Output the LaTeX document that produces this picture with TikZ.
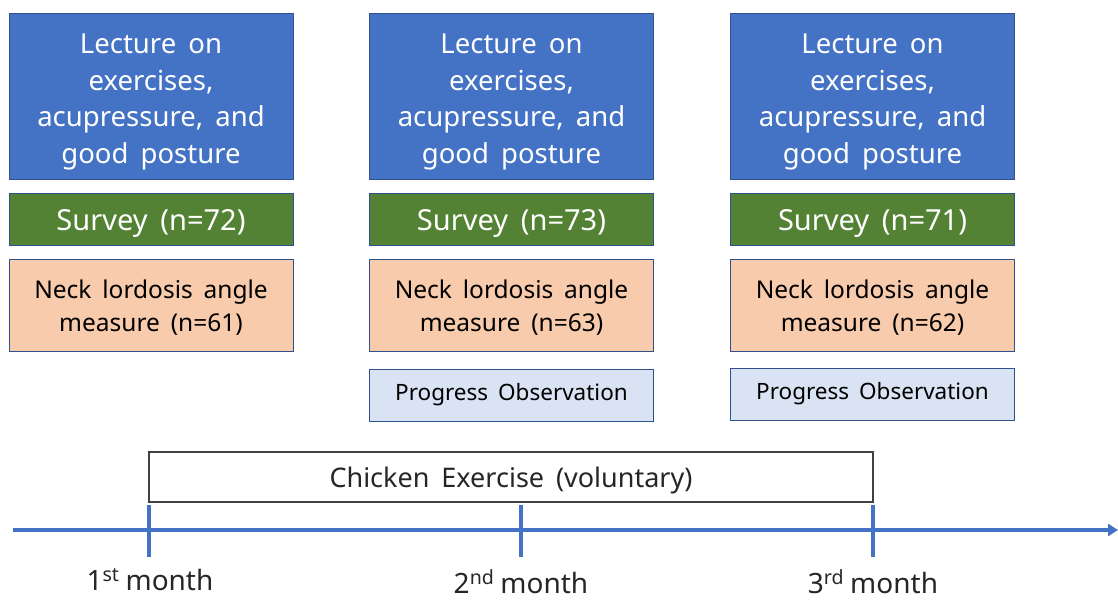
\documentclass[tikz,border=0pt]{standalone}
\usepackage{fontspec}
\setmainfont{Noto Sans}[WordSpace=1.7]
\usetikzlibrary{arrows.meta, calc, positioning}

\definecolor{lecblue}{HTML}{4472C4}
\definecolor{boxline}{HTML}{2F528F}
\definecolor{survgreen}{HTML}{548235}
\definecolor{neckpeach}{HTML}{F8CBAD}
\definecolor{progblue}{HTML}{DAE3F3}
\definecolor{frameline}{HTML}{404040}

\begin{document}
\begin{tikzpicture}[
    x=1pt, y=-1pt,
    box/.style={
        draw=boxline,
        rectangle,
        line width=1pt,
        minimum width=284pt,
        inner sep=0pt
    },
    lecture/.style={box, fill=lecblue, minimum height=166pt},
    survey/.style={box, fill=survgreen, minimum height=52pt},
    neck/.style={box, fill=neckpeach, minimum height=91pt},
    progress/.style={box, fill=progblue, minimum height=52pt},
    lectext/.style={
        align=center,
        text=white,
        font=\fontsize{27.5}{36.5}\selectfont
    },
    survtext/.style={
        text=white,
        font=\fontsize{29}{34}\selectfont
    },
    necktext/.style={
        align=center,
        font=\fontsize{24.5}{33}\selectfont
    },
    progtext/.style={
        font=\fontsize{22.5}{26}\selectfont
    },
    axisline/.style={
        draw=lecblue,
        line width=4pt
    },
    month/.style={
        inner sep=0pt,
        font=\fontsize{28}{32}\selectfont,
        text=black!85
    }
]

    \useasboundingbox (0,0) rectangle (1118,601);

    % Columns: lecture, survey, neck measure
    \foreach \i/\x/\ns/\nn in {1/151/72/61, 2/511.5/73/63, 3/872.5/71/62} {
        \node [lecture] (lec\i) at (\x, 97) {};
        \node [survey, below=13pt of lec\i] (surv\i) {};
        \node [neck, below=13pt of surv\i] (neck\i) {};
        \node [lectext] (lect\i) at ([yshift=-5pt]lec\i.center) {Lecture on\\exercises,\\acupressure, and\\good posture};
        \node [survtext] (survt\i) at ([yshift=-3pt]surv\i.center) {Survey (n=\ns)};
        \node [necktext] (neckt\i) at ([yshift=-2pt]neck\i.center) {Neck lordosis angle\\measure (n=\nn)};
    }

    % Progress observation (2nd and 3rd month only)
    \node [progress, below=17pt of neck2] (prog2) {};
    \node [progress, below=16pt of neck3] (prog3) {};
    \node [progtext] (progt2) at (prog2.center) {Progress Observation};
    \node [progtext] (progt3) at (prog3.center) {Progress Observation};

    % Time axis
    \coordinate (start) at (13, 530);
    \coordinate (end) at (1118, 530);
    \draw [axisline, -{Triangle[length=10pt, width=12pt]}] (start) -- (end);

    \coordinate (m1) at (149, 530);
    \coordinate (m2) at (521, 530);
    \coordinate (m3) at (873, 530);
    \foreach \m in {1,2,3} {
        \draw [axisline] ($(m\m) + (0, -25)$) -- ($(m\m) + (0, 27)$);
    }

    % Voluntary exercise bar
    \node [draw=frameline, line width=1.5pt, minimum width=724pt, minimum height=50pt,
           inner sep=0pt] (chicken) at (511, 477) {};
    \node [font=\fontsize{27}{30}\selectfont, text=black!85] (chickt)
           at ([yshift=-3pt]chicken.center) {Chicken Exercise (voluntary)};

    % Month labels
    \node [month] (lab1) at (150, 580) {1\textsuperscript{st}\hspace{6pt}month};
    \node [month] (lab2) at (521, 582) {2\textsuperscript{nd}\hspace{6pt}month};
    \node [month] (lab3) at (873, 582) {3\textsuperscript{rd}\hspace{6pt}month};

\end{tikzpicture}
\end{document}
